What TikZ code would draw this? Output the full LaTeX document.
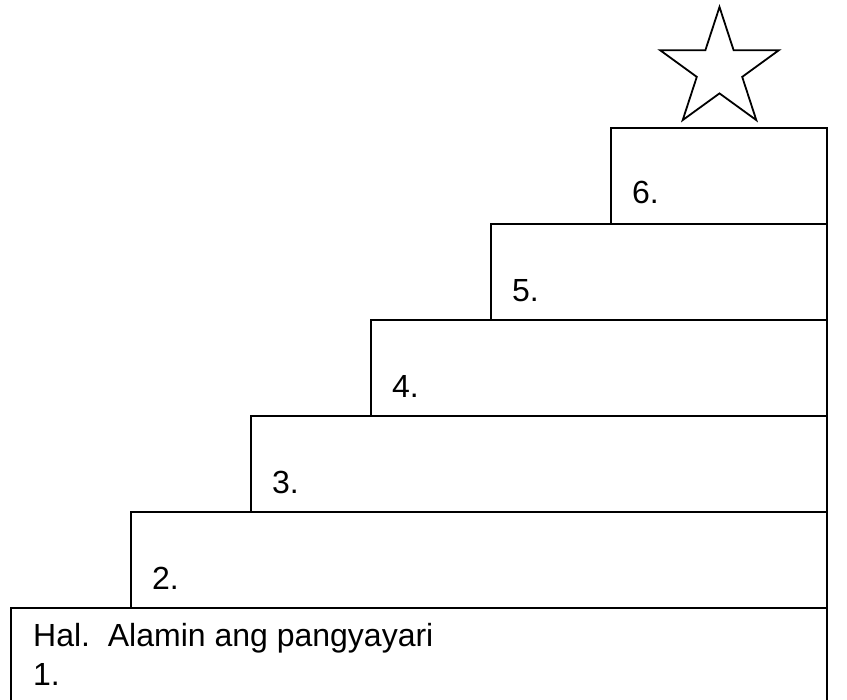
\documentclass[tikz,border=0pt]{standalone}
\usepackage{fontspec}
\setmainfont{Liberation Sans}
\begin{document}
\begin{tikzpicture}[x=1pt,y=-1pt,
  stepbox/.style={draw=black,line width=2.2pt,fill=white,inner sep=0pt,anchor=north east,minimum height=96pt},
  lbl/.style={anchor=base west,inner sep=0pt,font=\fontsize{32}{38}\selectfont},
  starline/.style={draw=black,line width=1.8pt,line join=miter}]
\useasboundingbox (0,0) rectangle (847,700);
\clip (0,0) rectangle (847,700);
\node[stepbox,minimum width=816pt,minimum height=100pt] (s1) at (828,607) {};
\node[stepbox,minimum width=696pt] (s2) at (828,511) {};
\node[stepbox,minimum width=576pt] (s3) at (828,415) {};
\node[stepbox,minimum width=456pt] (s4) at (828,319) {};
\node[stepbox,minimum width=336pt] (s5) at (828,223) {};
\node[stepbox,minimum width=216pt] (s6) at (828,127) {};
\node[lbl] (t0) at (33,647) {Hal.\ \ Alamin ang pangyayari};
\node[lbl] (t1) at (33,685) {1.};
\node[lbl] (t2) at (152,590) {2.};
\node[lbl] (t3) at (272,494) {3.};
\node[lbl] (t4) at (392,398) {4.};
\node[lbl] (t5) at (512,302) {5.};
\node[lbl] (t6) at (632,204) {6.};
\draw[starline] (719.5,7) -- (733.6,50.2) -- (778.9,50.2) -- (742.2,76.9) -- (756.3,120.1)
  -- (719.5,93.4) -- (682.7,120.1) -- (696.8,76.9) -- (660.1,50.2) -- (705.4,50.2) -- cycle;
\end{tikzpicture}
\end{document}
